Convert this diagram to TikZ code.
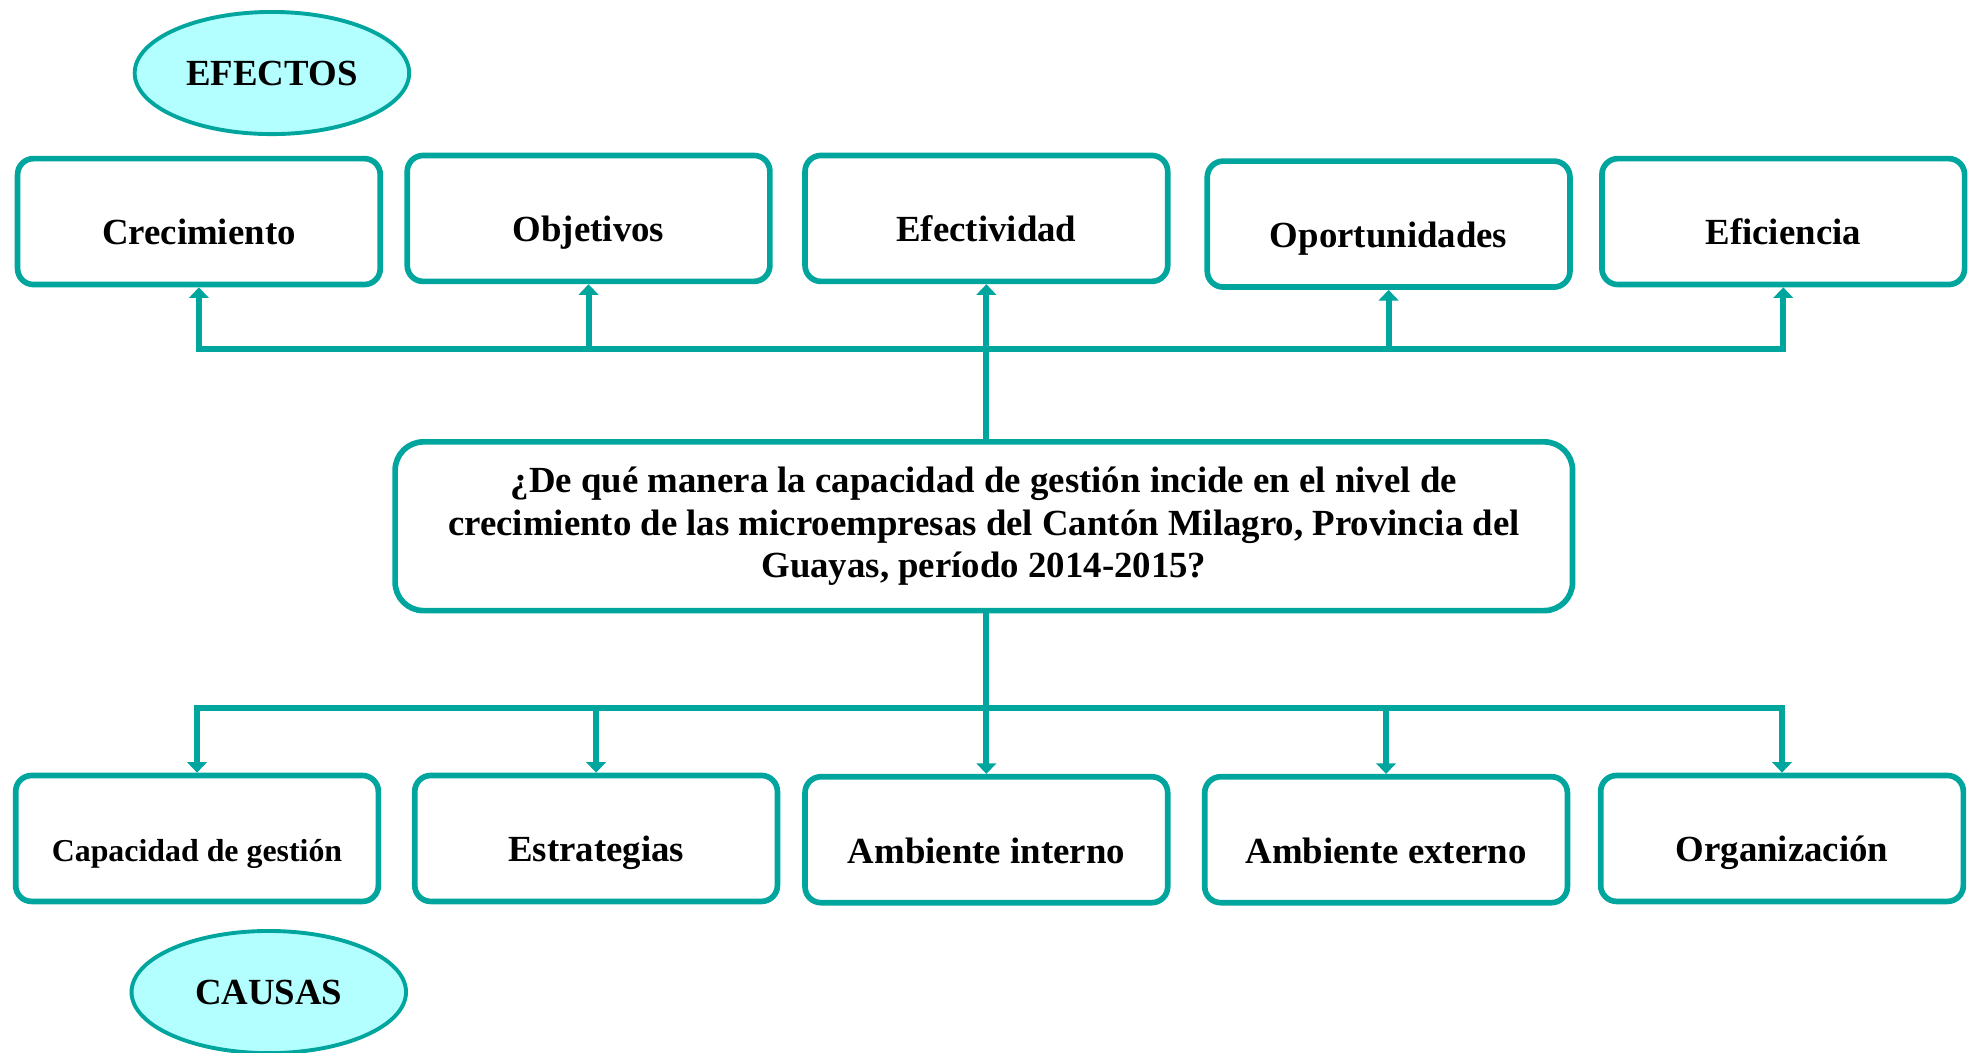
\documentclass[tikz,border=0pt]{standalone}
\usepackage{fontspec}
\setmainfont{Liberation Serif}
\usetikzlibrary{shapes.geometric, arrows.meta}
\definecolor{verde}{RGB}{0,166,158}
\definecolor{celeste}{RGB}{179,255,255}

\begin{document}
\begin{tikzpicture}[x=0.025cm, y=-0.025cm,
	letra/.style={font=\fontsize{20.8}{24.2}\selectfont\bfseries},
	caja/.style={letra, draw=verde, line width=3.2pt, rounded corners=9pt, minimum width=7.2cm, minimum height=2.5cm, inner sep=0pt, text height=26.4pt, text depth=0pt},
	pregunta/.style={letra, draw=verde, line width=3.2pt, rounded corners=16pt, minimum width=23.375cm, minimum height=3.35cm, align=center, inner sep=0pt},
	elipse/.style={letra, ellipse, draw=verde, fill=celeste, line width=2.2pt, minimum width=5.45cm, minimum height=2.425cm, inner sep=0pt},
	linea/.style={verde, line width=3.4pt, line cap=rect},
	flecha/.style={verde, line width=3.4pt, -{Triangle[length=6pt, width=11pt]}}]
	\useasboundingbox (0,0) rectangle (1568,836);
	
	%efectos
	\node[elipse] (efectos) at (216,58) {EFECTOS};
	\node[caja] (e1) at (158,176) {Crecimiento};
	\node[caja] (e2) at (467.5,173.5) {Objetivos};
	\node[caja] (e3) at (783.5,173.5) {Efectividad};
	\node[caja] (e4) at (1103,178) {Oportunidades};
	\node[caja] (e5) at (1416.5,176) {Eficiencia};
	
	%problema
	\node[pregunta] (q) at (781.5,418) {¿De qué manera la capacidad de gestión incide en el nivel de\\crecimiento de las microempresas del Cantón Milagro, Provincia del\\Guayas, período 2014-2015?};
	
	%causas
	\node[caja, font=\fontsize{18}{21}\selectfont\bfseries] (c1) at (156.5,666) {Capacidad de gestión};
	\node[caja] (c2) at (473.5,666) {Estrategias};
	\node[caja] (c3) at (783.5,667) {Ambiente interno};
	\node[caja] (c4) at (1101,667) {Ambiente externo};
	\node[caja] (c5) at (1415.5,666) {Organización};
	\node[elipse] (causas) at (213.5,788) {CAUSAS};
	
	%conexiones
	\coordinate (arriba) at (784,277);
	\coordinate (abajo) at (784,562);
	\draw[flecha] (q.north -| e3) -- (e3.south);
	\draw[linea] (e1.south |- arriba) -- (e5.south |- arriba);
	\foreach \n in {e1,e2,e4,e5}
		\draw[flecha] (\n.south |- arriba) -- (\n.south);
	\draw[flecha] (q.south -| c3) -- (c3.north);
	\draw[linea] (c1.north |- abajo) -- (c5.north |- abajo);
	\foreach \n in {c1,c2,c4,c5}
		\draw[flecha] (\n.north |- abajo) -- (\n.north);
\end{tikzpicture}
\end{document}
